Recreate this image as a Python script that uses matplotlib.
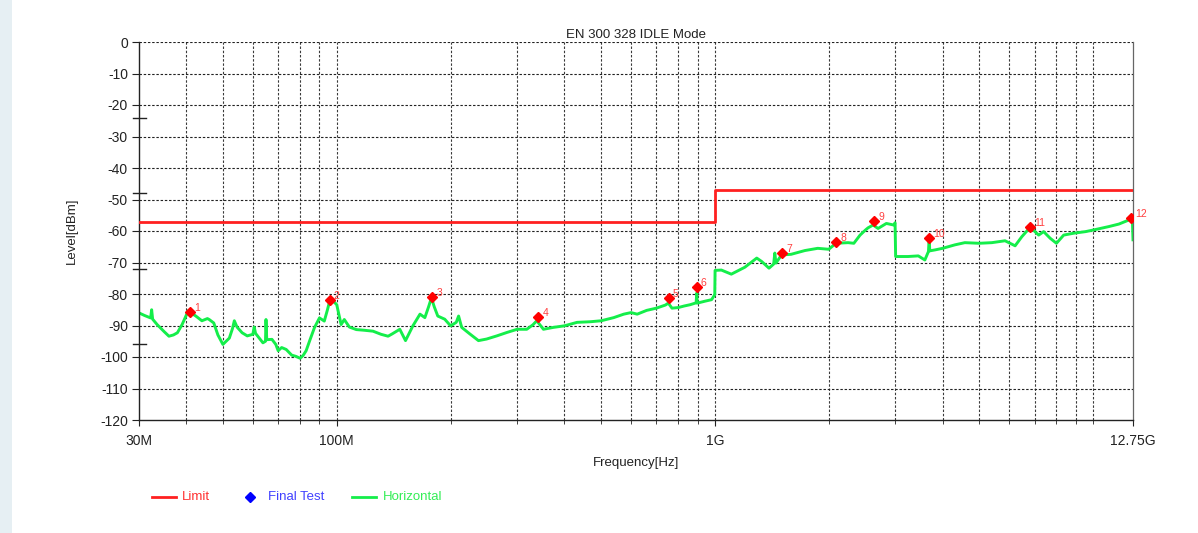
import numpy as np
import matplotlib
matplotlib.use("Agg")
import matplotlib.pyplot as plt
from matplotlib.lines import Line2D
from matplotlib.patches import Rectangle
from matplotlib.ticker import FixedLocator, NullFormatter

plt.rcParams["font.family"] = ["Liberation Sans", "DejaVu Sans"]
plt.rcParams["axes.unicode_minus"] = False

# limit line (MHz, dBm)
limit_freq_mhz = [30, 1000, 12750]
limit_level = [-57, -47, -47]

# measured horizontal trace (MHz, dBm)
trace_freq_mhz = [
    30, 31, 32.2, 32.4, 32.6, 33.5, 35, 36, 37, 37.9, 39, 40.5, 41.2, 42.4, 44,
    45.5, 46, 47.3, 48.5, 50, 51, 52, 53, 53.6, 54.5, 56.2, 58, 60, 60.5, 61,
    63.8, 64.8, 65, 65.3, 67.4, 69, 70, 71.5, 73.5, 76, 78, 80, 81.5, 83, 85,
    87.3, 90, 92.7, 94.5, 96, 98, 100, 102.7, 104.7, 108, 112.7, 118, 124.7,
    131, 136.7, 140, 146.8, 152, 159, 166, 171, 175, 178, 181, 185, 193, 200,
    207, 210, 214, 225, 237, 249, 265, 282, 300, 318, 330, 338, 352, 374, 400,
    432, 469, 500, 540, 574, 600, 623, 660, 700, 740, 753, 770, 800, 830, 860,
    892, 895, 898, 940, 980, 999, 1001, 1040, 1105, 1200, 1290, 1330, 1390,
    1430, 1440, 1450, 1500, 1590, 1730, 1870, 2000, 2090, 2250, 2330, 2420,
    2500, 2540, 2620, 2700, 2840, 2970, 2995, 3005, 3240, 3450, 3590, 3670,
    3685, 3700, 3820, 4000, 4310, 4580, 5000, 5400, 5850, 6220, 6480, 6820,
    7180, 7400, 7700, 8000, 8360, 8890, 9550, 10000, 11000, 11700, 12560,
    12700, 12750,
]
trace_level = [
    -86, -86.8, -87.6, -85, -88, -89.7, -92, -93.4, -93, -92.3, -89.7, -85.3,
    -86, -87, -88.5, -87.8, -88.1, -89.2, -93, -96, -95, -94, -91, -88.5,
    -90.5, -92.3, -93.3, -92.8, -90.5, -92.5, -95.5, -95, -88.1, -94.5, -94.4,
    -96, -98, -97, -97.6, -99.4, -99.8, -100.4, -99.5, -98, -94.5, -90.7,
    -87.6, -88.6, -85, -81.8, -82.3, -83.4, -89.7, -88.1, -90.5, -91.3, -91.5,
    -91.8, -92.8, -93.4, -92.7, -91.2, -94.8, -90.1, -86.4, -87.5, -84, -81.2,
    -84, -87, -88, -90.1, -89, -87, -90.6, -92.7, -94.8, -94.3, -93.3, -92.2,
    -91.2, -91.2, -89.8, -88.5, -91.2, -90.6, -90.1, -89, -88.8, -88.5, -87.5,
    -86.4, -85.9, -86.4, -85.2, -84.5, -83.5, -82.9, -84.5, -84.3, -83.8,
    -83.4, -82.8, -79.7, -82.9, -82.3, -81.8, -80.2, -72.5, -72.4, -73.7,
    -71.5, -68.6, -69.7, -71.8, -70.5, -67, -70.2, -67.6, -67.4, -66.2, -65.5,
    -65.8, -63.9, -63.7, -63.9, -61.3, -59.7, -59, -58.1, -59.2, -57.6, -58.1,
    -57.4, -68.1, -68.1, -67.9, -69.2, -66.5, -62.5, -66.3, -66, -65.5, -64.4,
    -63.7, -63.9, -63.7, -63.1, -64.7, -61.8, -58.8, -61.3, -60.2, -62.3,
    -63.9, -61.3, -60.7, -60.2, -59.7, -58.6, -57.8, -56.3, -56.5, -62.8,
]

# final test peaks (MHz, dBm)
peak_freq_mhz = [41, 95.7, 178.6, 341, 754, 895, 1506, 2094, 2640, 3690, 6810, 12600]
peak_level = [-85.7, -81.9, -81.0, -87.3, -81.3, -77.8, -67.0, -63.5, -56.8, -62.2, -58.7, -55.9]
peak_labels = ["1", "2", "3", "4", "5", "6", "7", "8", "9", "10", "11", "12"]

major_ticks_mhz = [30, 100, 1000, 12750]
major_labels = ["30M", "100M", "1G", "12.75G"]
grid_mhz = [40, 50, 60, 70, 80, 90, 200, 300, 400, 500, 600, 700, 800, 900,
            2000, 3000, 4000, 5000, 6000, 7000, 8000, 9000, 10000]

W, H = 1198, 533
fig = plt.figure(figsize=(W / 100, H / 100), dpi=100)
fig.patch.set_facecolor("white")
fig.patches.append(Rectangle((0, 0), 12 / W, 1, transform=fig.transFigure,
                             facecolor="#e6eff3", edgecolor="none", zorder=0))

ax = fig.add_axes([139 / W, (H - 420) / H, 994 / W, 378 / H])
ax.set_xscale("log")
ax.set_xlim(30e6, 12.75e9)
ax.set_ylim(-120, 0)

dash = (0, (2.2, 1.6))
for f in grid_mhz + [100, 1000]:
    ax.axvline(f * 1e6, color="#3a3a3a", lw=0.8, ls=dash, zorder=1)
for lv in range(-110, 1, 10):
    ax.axhline(lv, color="#222222", lw=0.8, ls=dash, zorder=1)

ax.plot(np.array(limit_freq_mhz) * 1e6, limit_level, drawstyle="steps-post",
        color="#ff2020", lw=2.0, zorder=3)
ax.plot(np.array(trace_freq_mhz) * 1e6, trace_level, color="#14ee4a", lw=2.1,
        zorder=2)
ax.plot(np.array(peak_freq_mhz) * 1e6, peak_level, ls="none", marker="D",
        ms=5.5, color="#ff0000", zorder=4)
for f, lv, t in zip(peak_freq_mhz, peak_level, peak_labels):
    ax.annotate(t, (f * 1e6, lv), xytext=(3, 1), textcoords="offset points",
                fontsize=7.5, color="#ff4040", zorder=5)

ax.xaxis.set_major_locator(FixedLocator([f * 1e6 for f in major_ticks_mhz]))
ax.set_xticklabels(major_labels)
ax.xaxis.set_minor_locator(FixedLocator([f * 1e6 for f in grid_mhz]))
ax.xaxis.set_minor_formatter(NullFormatter())
ax.tick_params(axis="x", which="major", length=4, pad=6, labelsize=10, colors="#222222")
ax.tick_params(axis="x", which="minor", length=3, color="#222222")
ax.set_yticks(range(-120, 1, 10))
ax.tick_params(axis="y", length=5, pad=3, labelsize=10, colors="#222222")

# extra long ticks on the level axis
for lv in [-24, -48, -72, -96]:
    ax.plot([-6 / 994, 7 / 994], [lv, lv], transform=ax.get_yaxis_transform(),
            color="#222222", lw=1.0, clip_on=False, zorder=5)

for s in ["left", "bottom"]:
    ax.spines[s].set_color("#222222")
    ax.spines[s].set_linewidth(1.0)
ax.spines["top"].set_visible(False)
ax.spines["right"].set_color("#666666")
ax.spines["right"].set_linewidth(0.9)

ax.set_title("EN 300 328 IDLE Mode", fontsize=9.5, pad=3, color="#222222")
ax.set_xlabel("Frequency[Hz]", fontsize=9.5, color="#222222")
ax.xaxis.set_label_coords(0.5, -37 / 378)
ax.set_ylabel("Level[dBm]", fontsize=9.5, color="#222222")
ax.yaxis.set_label_coords(-(139 - 78) / 994, 0.5)

# legend drawn under the plot
ly = (H - 497) / H
fig.lines.append(Line2D([152 / W, 176 / W], [ly, ly], transform=fig.transFigure,
                        color="#ff2020", lw=2))
fig.text(182 / W, ly, "Limit", color="#ff3030", fontsize=9.5, va="center")
fig.lines.append(Line2D([250 / W], [ly], transform=fig.transFigure, ls="none",
                        marker="D", ms=5, color="#0000ff"))
fig.text(268 / W, ly, "Final Test", color="#4040ff", fontsize=9.5, va="center")
fig.lines.append(Line2D([352 / W, 376 / W], [ly, ly], transform=fig.transFigure,
                        color="#14ee4a", lw=2))
fig.text(383 / W, ly, "Horizontal", color="#33ee55", fontsize=9.5, va="center")

fig.savefig("out.png", dpi=100, facecolor=fig.get_facecolor())
plt.close(fig)
